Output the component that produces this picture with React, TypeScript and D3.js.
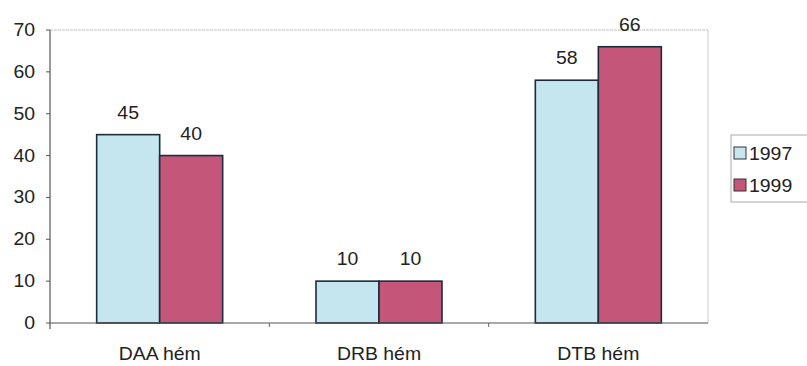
import React from "react";
import * as d3 from "d3";

const categories = ["DAA hém", "DRB hém", "DTB hém"];
const seriesNames = ["1997", "1999"];
const values1997 = [45, 10, 58];
const values1999 = [40, 10, 66];
const yTicks = [0, 10, 20, 30, 40, 50, 60, 70];
const colors = ["#c6e6ef", "#c4567a"];

const W = 807;
const H = 366;
const left = 50;
const right = 708;
const top = 30;
const bottom = 323;

function T(props: { x: number; y: number; anchor?: string; size?: number; children: React.ReactNode }) {
  const sx = 1.08;
  return (
    <text
      transform={`translate(${props.x},${props.y}) scale(${sx},1)`}
      textAnchor={props.anchor || "start"}
      fontSize={props.size || 18}
      fill="#222"
    >
      {props.children}
    </text>
  );
}

export default function App() {
  const x0 = d3.scaleBand<string>().domain(categories).range([left, right]).paddingInner(0).paddingOuter(0);
  const y = d3.scaleLinear().domain([0, 70]).range([bottom, top]);
  const barW = 63;
  const series = [values1997, values1999];
  const font = "Arial, 'Liberation Sans', sans-serif";
  return (
    <svg width={W} height={H} style={{ position: "absolute", left: 0, top: 0, background: "#fff" }} fontFamily={font}>
      <rect x={0} y={0} width={W} height={H} fill="#fff" />
      {/* plot border */}
      <line x1={left} x2={right} y1={top} y2={top} stroke="#bbb" strokeDasharray="3,1" />
      <line x1={right} x2={right} y1={top} y2={bottom} stroke="#ccc" />
      {/* bars */}
      {categories.map((c, i) => {
        const cx = (x0(c) as number) + x0.bandwidth() / 2;
        return series.map((s, j) => {
          const bx = cx - barW + j * barW;
          return (
            <g key={c + j}>
              <rect x={bx} y={y(s[i])} width={barW} height={bottom - y(s[i])} fill={colors[j]} stroke="#1c2c3c" strokeWidth={1.6} />
              <T x={bx + barW / 2} y={y(s[i]) - 16} anchor="middle">{s[i]}</T>
            </g>
          );
        });
      })}
      {/* y axis */}
      <line x1={left} x2={left} y1={top} y2={bottom + 6} stroke="#555" strokeWidth={1.2} />
      {yTicks.map((t) => (
        <g key={t}>
          <line x1={left - 4} x2={left} y1={y(t)} y2={y(t)} stroke="#555" />
          <T x={35} y={y(t) + 6} anchor="end">{t}</T>
        </g>
      ))}
      {/* x axis */}
      <line x1={left} x2={right} y1={bottom} y2={bottom} stroke="#555" strokeWidth={1.2} />
      {categories.map((c, i) => (
        <g key={c}>
          {i > 0 && <line x1={x0(c) as number} x2={x0(c) as number} y1={bottom} y2={bottom + 4} stroke="#666" />}
          <T x={(x0(c) as number) + x0.bandwidth() / 2} y={360} anchor="middle">{c}</T>
        </g>
      ))}
      {/* legend */}
      <rect x={731} y={135} width={85} height={67} fill="#fff" stroke="#aaa" />
      {seriesNames.map((n, j) => (
        <g key={n}>
          <rect x={734} y={147 + j * 32} width={12} height={12} fill={colors[j]} stroke="#333" />
          <T x={749} y={160 + j * 32}>{n}</T>
        </g>
      ))}
    </svg>
  );
}
